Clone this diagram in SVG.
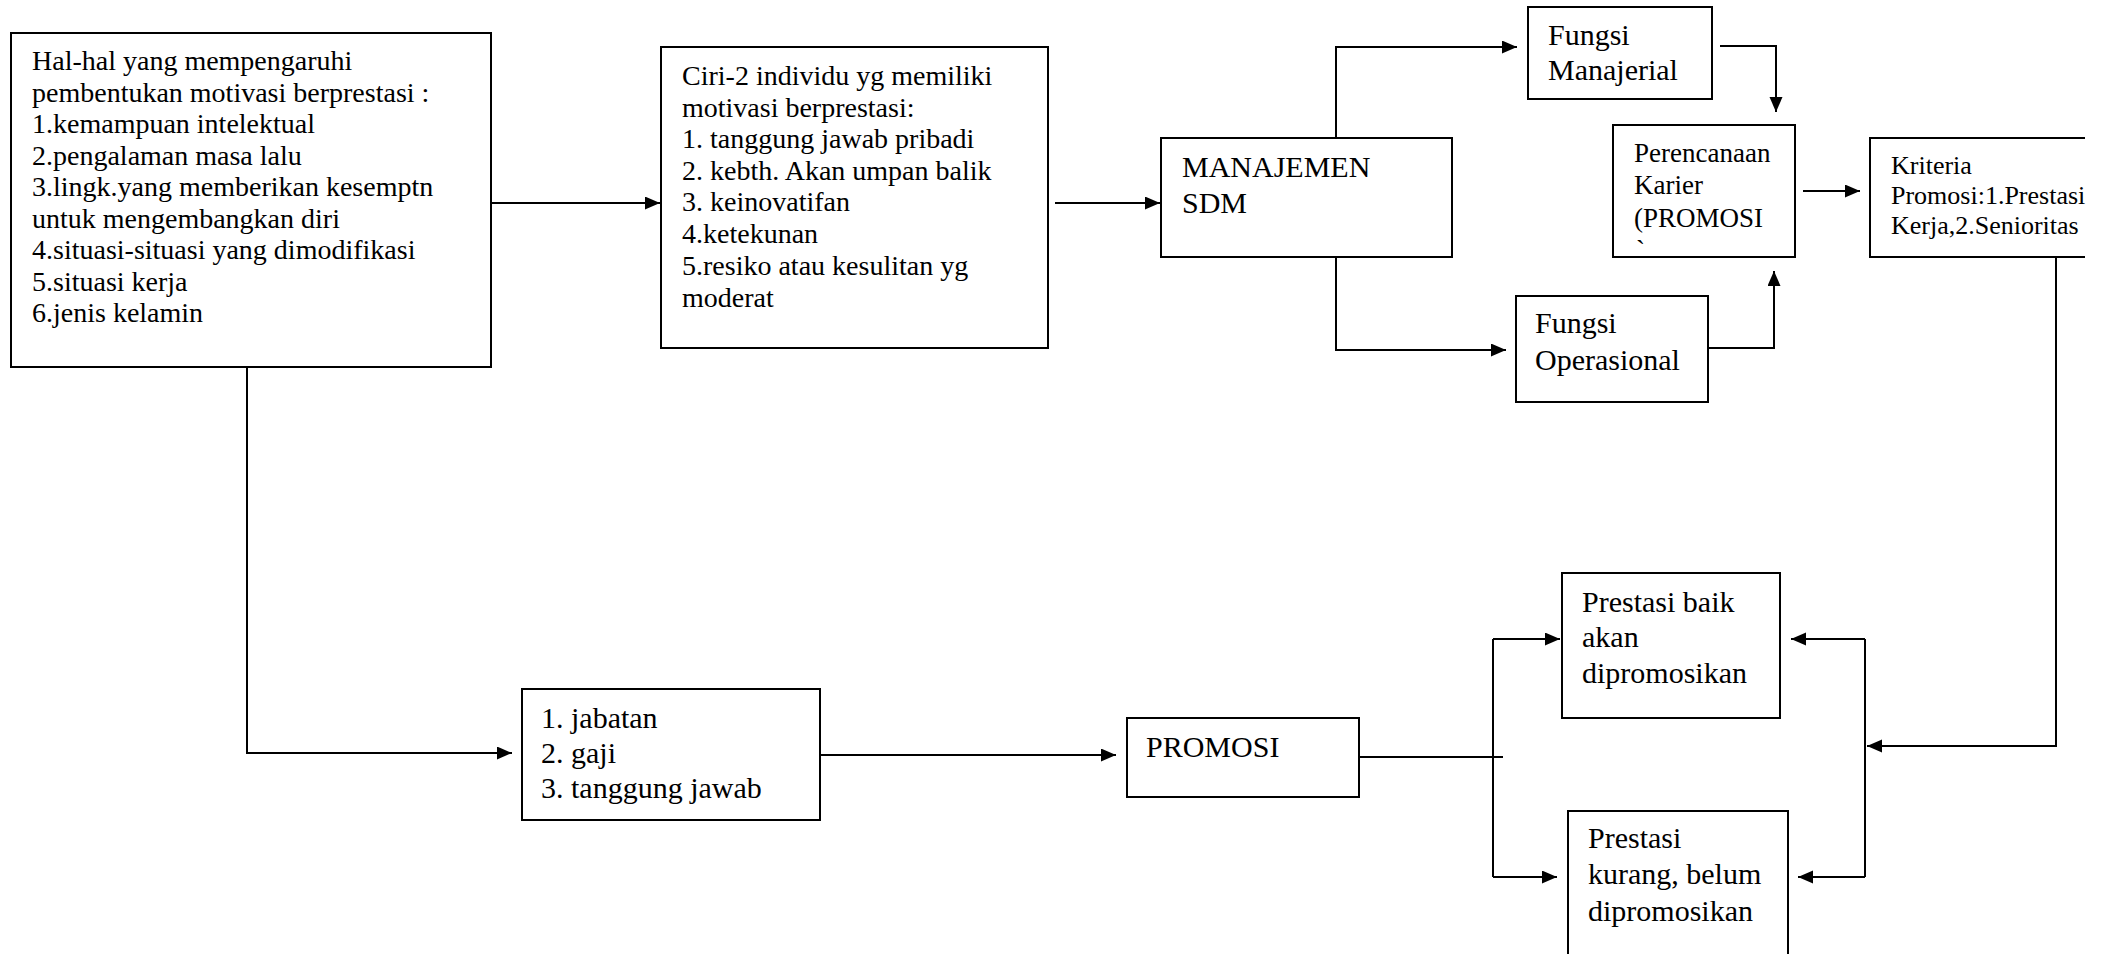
<svg xmlns="http://www.w3.org/2000/svg" width="2108" height="954" viewBox="0 0 2108 954">
<defs>
<style>
.box{fill:none;stroke:#000;stroke-width:2}
.t{font-family:"Liberation Serif","Times New Roman",serif;fill:#000}
.f28{font-size:28px}
.f30{font-size:30px}
.f27{font-size:27px}
.f26{font-size:26px}
.c{fill:none;stroke:#000;stroke-width:2}
.a{marker-end:url(#ah)}
</style>
<marker id="ah" markerUnits="userSpaceOnUse" markerWidth="16" markerHeight="14" refX="15" refY="6.5" orient="auto">
<path d="M0,0 L15,6.5 L0,13 z" fill="#000"/>
</marker>
</defs>
<rect width="2108" height="954" fill="#fff"/>

<g id="connectors">
<path class="c a" d="M491,203 H660"/>
<path class="c a" d="M1055,203 H1160"/>
<path class="c a" d="M1336,138 V47 H1517"/>
<path class="c a" d="M1336,257 V350 H1506"/>
<path class="c a" d="M1720,46 H1776 V112"/>
<path class="c a" d="M1708,348 H1774 V271"/>
<path class="c a" d="M1803,191 H1860"/>
<path class="c a" d="M2056,257 V746 H1867"/>
<path class="c a" d="M247,367 V753 H512"/>
<path class="c a" d="M820,755 H1116"/>
<path class="c" d="M1359,757 H1503"/>
<path class="c" d="M1493,639 V877"/>
<path class="c a" d="M1493,639 H1560"/>
<path class="c a" d="M1493,877 H1557"/>
<path class="c" d="M1865,639 V877"/>
<path class="c a" d="M1865,639 H1791"/>
<path class="c a" d="M1865,877 H1798"/>
</g>

<g id="box1">
<rect class="box" x="11" y="33" width="480" height="334"/>
<text class="t f28" x="32" y="70">Hal-hal yang mempengaruhi</text>
<text class="t f28" x="32" y="101.5">pembentukan motivasi berprestasi :</text>
<text class="t f28" x="32" y="133">1.kemampuan intelektual</text>
<text class="t f28" x="32" y="164.5">2.pengalaman masa lalu</text>
<text class="t f28" x="32" y="196">3.lingk.yang memberikan kesemptn</text>
<text class="t f28" x="32" y="227.5">untuk mengembangkan diri</text>
<text class="t f28" x="32" y="259">4.situasi-situasi yang dimodifikasi</text>
<text class="t f28" x="32" y="290.5">5.situasi kerja</text>
<text class="t f28" x="32" y="322">6.jenis kelamin</text>
</g>

<g id="box2">
<rect class="box" x="661" y="47" width="387" height="301"/>
<text class="t f28" x="682" y="85">Ciri-2 individu yg memiliki</text>
<text class="t f28" x="682" y="116.5">motivasi berprestasi:</text>
<text class="t f28" x="682" y="148">1. tanggung jawab pribadi</text>
<text class="t f28" x="682" y="179.5">2. kebth. Akan umpan balik</text>
<text class="t f28" x="682" y="211">3. keinovatifan</text>
<text class="t f28" x="682" y="243">4.ketekunan</text>
<text class="t f28" x="682" y="275">5.resiko atau kesulitan yg</text>
<text class="t f28" x="682" y="307">moderat</text>
</g>

<g id="manajemen">
<rect class="box" x="1161" y="138" width="291" height="119"/>
<text class="t f30" x="1182" y="177">MANAJEMEN</text>
<text class="t f30" x="1182" y="213">SDM</text>
</g>

<g id="fungsi-manajerial">
<rect class="box" x="1528" y="7" width="184" height="92"/>
<text class="t f30" x="1548" y="45">Fungsi</text>
<text class="t f30" x="1548" y="80">Manajerial</text>
</g>

<g id="perencanaan">
<rect class="box" x="1613" y="125" width="182" height="132"/>
<text class="t f27" x="1634" y="162">Perencanaan</text>
<text class="t f27" x="1634" y="194">Karier</text>
<text class="t f27" x="1634" y="227">(PROMOSI</text>
<text class="t f27" x="1636" y="259">`</text>
</g>

<g id="kriteria">
<path class="box" d="M2085,138 H1870 V257 H2085"/>
<text class="t f26" x="1891" y="174">Kriteria</text>
<text class="t f26" x="1891" y="204">Promosi:1.Prestasi</text>
<text class="t f26" x="1891" y="234">Kerja,2.Senioritas</text>
</g>

<g id="fungsi-operasional">
<rect class="box" x="1516" y="296" width="192" height="106"/>
<text class="t f30" x="1535" y="333">Fungsi</text>
<text class="t f30" x="1535" y="370">Operasional</text>
</g>

<g id="jabatan">
<rect class="box" x="522" y="689" width="298" height="131"/>
<text class="t f30" x="541" y="728">1. jabatan</text>
<text class="t f30" x="541" y="763">2. gaji</text>
<text class="t f30" x="541" y="798">3. tanggung jawab</text>
</g>

<g id="promosi">
<rect class="box" x="1127" y="718" width="232" height="79"/>
<text class="t f30" x="1146" y="757">PROMOSI</text>
</g>

<g id="prestasi-baik">
<rect class="box" x="1562" y="573" width="218" height="145"/>
<text class="t f30" x="1582" y="612">Prestasi baik</text>
<text class="t f30" x="1582" y="647">akan</text>
<text class="t f30" x="1582" y="683">dipromosikan</text>
</g>

<g id="prestasi-kurang">
<path class="box" d="M1568,958 V811 H1788 V958"/>
<text class="t f30" x="1588" y="848">Prestasi</text>
<text class="t f30" x="1588" y="884">kurang, belum</text>
<text class="t f30" x="1588" y="921">dipromosikan</text>
</g>
</svg>
